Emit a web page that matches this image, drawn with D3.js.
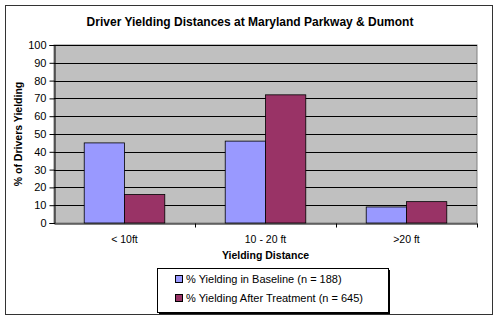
<!DOCTYPE html>
<html>
<head>
<meta charset="utf-8">
<script src="https://cdn.jsdelivr.net/npm/d3@7"></script>
<style>
  html, body { margin: 0; padding: 0; background: #fff; }
  svg { display: block; font-family: Arial, "Liberation Sans", sans-serif; }
</style>
</head>
<body>
<svg id="chart" width="500" height="325"></svg>
<script>
// --- Daten ---
const categories = ["<  10ft", "10 - 20 ft", ">20 ft"];
const seriesNames = ["% Yielding in Baseline (n = 188)", "% Yielding After Treatment (n = 645)"];
const baseline = [45, 46, 9];
const treatment = [16, 72, 12];
const yTicks = [0, 10, 20, 30, 40, 50, 60, 70, 80, 90, 100];
const colors = ["#9999FF", "#993366"];

const svg = d3.select("#chart");
const plot = { left: 54, right: 477, top: 45, bottom: 223 };

// Rahmen um das ganze Diagramm
svg.append("rect")
  .attr("x", 5.5).attr("y", 5.5).attr("width", 487).attr("height", 309)
  .attr("fill", "#fff").attr("stroke", "#333").attr("stroke-width", 1);

svg.append("text")
  .attr("x", 250).attr("y", 26)
  .attr("text-anchor", "middle")
  .attr("font-size", 12).attr("font-weight", "bold")
  .text("Driver Yielding Distances at Maryland Parkway & Dumont");

const x0 = d3.scaleBand().domain(categories).range([plot.left, plot.right]).paddingInner(0).paddingOuter(0);
const x1 = d3.scaleBand().domain([0, 1]).range([0, x0.bandwidth()]).paddingInner(0).paddingOuter(0.75);
const y = d3.scaleLinear().domain([0, 100]).range([plot.bottom, plot.top]);

// Plotfläche
svg.append("rect")
  .attr("x", plot.left).attr("y", plot.top)
  .attr("width", plot.right - plot.left).attr("height", plot.bottom - plot.top)
  .attr("fill", "#C0C0C0").attr("stroke", "#808080");

// Gitterlinien
svg.append("g").selectAll("line")
  .data(yTicks.filter(d => d > 0))
  .join("line")
  .attr("x1", plot.left).attr("x2", plot.right)
  .attr("y1", d => Math.round(y(d)) + 0.5).attr("y2", d => Math.round(y(d)) + 0.5)
  .attr("stroke", "#000");

// Balken
const data = categories.map((c, i) => ({ cat: c, values: [baseline[i], treatment[i]] }));
svg.append("g").selectAll("g")
  .data(data)
  .join("g")
  .attr("transform", d => `translate(${x0(d.cat)},0)`)
  .selectAll("rect")
  .data(d => d.values.map((v, k) => ({ k, v })))
  .join("rect")
  .attr("x", d => x1(d.k))
  .attr("y", d => y(d.v))
  .attr("width", x1.bandwidth())
  .attr("height", d => y(0) - y(d.v))
  .attr("fill", d => colors[d.k])
  .attr("stroke", "#000").attr("stroke-width", 0.8);

// Achsen
const yAxis = d3.axisLeft(y).tickValues(yTicks).tickSize(5).tickPadding(3);
const gy = svg.append("g").attr("transform", `translate(${plot.left + 0.5},0)`).call(yAxis);
gy.selectAll("text").attr("font-size", 11).attr("font-family", "Arial, 'Liberation Sans', sans-serif").attr("fill", "#000");
gy.selectAll("line").attr("stroke", "#000");
gy.select(".domain").attr("stroke", "#000");

const xAxis = d3.axisBottom(x0).tickSize(0).tickPadding(12);
const gx = svg.append("g").attr("transform", `translate(0,${plot.bottom + 0.5})`).call(xAxis);
gx.selectAll("text").attr("font-size", 10.5).attr("font-family", "Arial, 'Liberation Sans', sans-serif").attr("fill", "#000");
gx.select(".domain").attr("stroke", "#000");
// Trennstriche zwischen den Kategorien
gx.selectAll(".sep")
  .data(categories.slice(1).concat([null]))
  .join("line")
  .attr("x1", (d, i) => Math.round(plot.left + x0.bandwidth() * (i + 1)) + 0.5)
  .attr("x2", (d, i) => Math.round(plot.left + x0.bandwidth() * (i + 1)) + 0.5)
  .attr("y1", 0).attr("y2", 4)
  .attr("stroke", "#000");

// Achsentitel
svg.append("text")
  .attr("transform", `translate(22,${(plot.top + plot.bottom) / 2}) rotate(-90)`)
  .attr("text-anchor", "middle")
  .attr("font-size", 10.5).attr("font-weight", "bold")
  .text("% of Drivers Yielding");

svg.append("text")
  .attr("x", (plot.left + plot.right) / 2).attr("y", 259)
  .attr("text-anchor", "middle")
  .attr("font-size", 10.5).attr("font-weight", "bold")
  .text("Yielding Distance");

// Legende mit Schatten
const legend = svg.append("g");
legend.append("rect")
  .attr("x", 159).attr("y", 270).attr("width", 231).attr("height", 44)
  .attr("fill", "#000");
legend.append("rect")
  .attr("x", 157.5).attr("y", 268.5).attr("width", 231).attr("height", 44)
  .attr("fill", "#fff").attr("stroke", "#000");

legend.selectAll("g.item")
  .data(seriesNames)
  .join("g")
  .attr("class", "item")
  .attr("transform", (d, i) => `translate(175,${283 + i * 19})`)
  .each(function(d, i) {
    const g = d3.select(this);
    g.append("rect")
      .attr("x", 0.5).attr("y", -7.5).attr("width", 7).attr("height", 7)
      .attr("fill", colors[i]).attr("stroke", "#000");
    g.append("text")
      .attr("x", 11).attr("y", 0)
      .attr("font-size", 11)
      .text(d);
  });
</script>
</body>
</html>
